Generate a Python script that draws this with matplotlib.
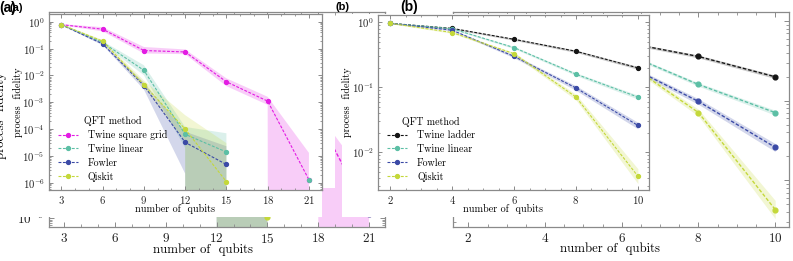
import numpy as np
import matplotlib
matplotlib.use('Agg')
import matplotlib.pyplot as plt
from matplotlib.patches import Rectangle
from matplotlib.ticker import MultipleLocator, LogLocator, NullFormatter

plt.rcParams['font.family'] = 'serif'
plt.rcParams['font.serif'] = ['cmr10']
plt.rcParams['mathtext.fontset'] = 'cm'
plt.rcParams['axes.formatter.use_mathtext'] = True

# panel (a): process fidelity vs number of qubits
qubits_a = [3, 6, 9, 12, 15, 18, 21]
grid_f = [0.78, 0.53, 0.085, 0.075, 0.0058, 0.0011, 1.3e-6]
grid_lo = [0.74, 0.44, 0.066, 0.062, 0.0040, 0.0008, 0]
grid_hi = [0.82, 0.63, 0.115, 0.093, 0.0078, 0.0016, 1.3e-5]

qubits_a2 = [3, 6, 9, 12, 15]
lin_a = [0.78, 0.17, 0.0155, 6.4e-5, 1.4e-5]
lin_a_lo = [0.74, 0.15, 0.0102, 2.0e-5, 0]
lin_a_hi = [0.82, 0.19, 0.024, 1.2e-4, 7.0e-5]
fow_a = [0.78, 0.15, 0.0042, 3.2e-5, 4.8e-6]
fow_a_lo = [0.74, 0.135, 0.0030, 2.2e-6, 0]
fow_a_hi = [0.82, 0.165, 0.0055, 8.0e-5, 2.3e-5]
qis_a = [0.78, 0.19, 0.0045, 1.0e-4, 1.1e-6]
qis_a_lo = [0.74, 0.17, 0.0036, 3.5e-5, 0]
qis_a_hi = [0.82, 0.21, 0.0065, 3.3e-4, 3.0e-5]

# panel (b)
qubits_b = [2, 4, 6, 8, 10]
lad_b = [0.97, 0.81, 0.55, 0.36, 0.20]
lad_b_lo = [0.955, 0.79, 0.53, 0.345, 0.19]
lad_b_hi = [0.985, 0.83, 0.57, 0.375, 0.21]
lin_b = [0.97, 0.80, 0.41, 0.16, 0.071]
lin_b_lo = [0.955, 0.78, 0.395, 0.152, 0.066]
lin_b_hi = [0.985, 0.82, 0.425, 0.168, 0.076]
fow_b = [0.97, 0.76, 0.30, 0.098, 0.026]
fow_b_lo = [0.955, 0.74, 0.285, 0.090, 0.023]
fow_b_hi = [0.985, 0.78, 0.315, 0.106, 0.029]
qis_b = [0.97, 0.70, 0.33, 0.071, 0.0043]
qis_b_lo = [0.955, 0.68, 0.315, 0.064, 0.0033]
qis_b_hi = [0.985, 0.72, 0.345, 0.078, 0.0056]

C_GRID = '#e31ce3'
C_LIN = '#5cbfa5'
C_FOW = '#3b4aa6'
C_QIS = '#c4d83a'
C_LAD = '#151515'

W, H = 793, 261


def px_rect(x0, y0, x1, y1):
    # figure pixel box (top-left origin) -> figure fraction rect
    return [x0 / W, 1 - y1 / H, (x1 - x0) / W, (y1 - y0) / H]


def series(ax, x, y, lo, hi, color, label, s):
    ax.fill_between(x, lo, hi, color=color, alpha=0.22, lw=0)
    ax.plot(x, y, ls='--', dashes=(2.6, 1.4), color=color, lw=0.8 * s,
            marker='o', ms=2.8 * s, label=label)


def style(ax, s):
    for sp in ax.spines.values():
        sp.set_color('#8a8a8a')
        sp.set_linewidth(0.9)
    ax.tick_params(which='both', direction='in', top=True, right=True,
                   color='#8a8a8a', labelcolor='#222222', labelsize=7.7 * s, pad=3 * s)
    ax.tick_params(which='major', length=3.2 * s, width=0.7)
    ax.tick_params(which='minor', length=1.6 * s, width=0.6)
    ax.yaxis.set_major_locator(LogLocator(base=10, numticks=20))
    ax.yaxis.set_minor_locator(LogLocator(base=10, subs=np.arange(2, 10), numticks=20))
    ax.yaxis.set_minor_formatter(NullFormatter())


def add_legend(ax, s):
    ax.legend(title='QFT method', loc='lower left', bbox_to_anchor=(0.0, -0.005),
              frameon=False, fontsize=7.2 * s, title_fontsize=7.2 * s,
              handlelength=2.0, labelspacing=0.42, handletextpad=1.0)


def panel_a(ax, s, legend):
    series(ax, qubits_a, grid_f, grid_lo, grid_hi, C_GRID, 'Twine square grid', s)
    series(ax, qubits_a2, lin_a, lin_a_lo, lin_a_hi, C_LIN, 'Twine linear', s)
    series(ax, qubits_a2, fow_a, fow_a_lo, fow_a_hi, C_FOW, 'Fowler', s)
    series(ax, qubits_a2, qis_a, qis_a_lo, qis_a_hi, C_QIS, 'Qiskit', s)
    ax.plot(qubits_a[-1], grid_f[-1], 'o', color=C_LIN, ms=2.8 * s)
    ax.set_yscale('log')
    ax.set_xlim(2.1, 21.95)
    ax.set_ylim(10 ** -6.27, 10 ** 0.29)
    style(ax, s)
    ax.xaxis.set_major_locator(MultipleLocator(3))
    ax.xaxis.set_minor_locator(MultipleLocator(1))
    if legend:
        add_legend(ax, s)


def panel_b(ax, s, legend):
    series(ax, qubits_b, lad_b, lad_b_lo, lad_b_hi, C_LAD, 'Twine ladder', s)
    series(ax, qubits_b, lin_b, lin_b_lo, lin_b_hi, C_LIN, 'Twine linear', s)
    series(ax, qubits_b, fow_b, fow_b_lo, fow_b_hi, C_FOW, 'Fowler', s)
    series(ax, qubits_b, qis_b, qis_b_lo, qis_b_hi, C_QIS, 'Qiskit', s)
    ax.set_yscale('log')
    ax.set_xlim(1.6, 10.36)
    ax.set_ylim(10 ** -2.58, 10 ** 0.115)
    style(ax, s)
    ax.xaxis.set_major_locator(MultipleLocator(2))
    ax.xaxis.set_minor_locator(MultipleLocator(0.5))
    if legend:
        add_legend(ax, s)


fig = plt.figure(figsize=(W / 100, H / 100), dpi=100)

# big copy of the figure underneath
big = 1.23
axA = fig.add_axes(px_rect(49, 12, 385, 227), zorder=0)
axB = fig.add_axes(px_rect(453, 12, 789, 226.5), zorder=0)
panel_a(axA, big, False)
panel_b(axB, big, False)
for ax, xl in ((axA, 0.458), (axB, 0.467)):
    ax.set_xlabel('number of  qubits', fontsize=9.2)
    ax.xaxis.set_label_coords(xl, -0.075)
axA.set_ylabel('process  fidelity', fontsize=9.2)
axA.yaxis.set_label_coords(-0.125, 0.52)
axB.set_ylabel('process  fidelity', fontsize=9.2)

# white backing of the small copy
for box in ((14, 14, 335, 188), (14, 188, 322, 217), (342, 14, 650, 217)):
    r = px_rect(*box)
    fig.add_artist(Rectangle((r[0], r[1]), r[2], r[3], transform=fig.transFigure,
                             facecolor='white', edgecolor='none', zorder=1))

# small copy on top
axa = fig.add_axes(px_rect(49, 14, 322, 190), zorder=2)
axb = fig.add_axes(px_rect(378, 15, 649, 190), zorder=2)
panel_a(axa, 1.0, True)
panel_b(axb, 1.0, True)
for ax in (axa, axb):
    ax.set_xlabel('number of  qubits', fontsize=7.3)
    ax.xaxis.set_label_coords(0.462, -0.078)
    ax.set_ylabel('process  fidelity', fontsize=7.3)
    ax.yaxis.set_label_coords(-0.095, 0.5)

fig.text(-1 / W, 1 - 1 / H, '(a)', fontsize=10, fontweight='bold',
         family='Liberation Sans', ha='left', va='top', zorder=0.5)
fig.text(400 / W, 1, '(b)', fontsize=10, fontweight='bold',
         family='Liberation Sans', ha='left', va='top', zorder=0.5)
fig.text(10 / W, 1 - 3 / H, '(a)', fontsize=8, fontweight='bold',
         family='Liberation Sans', ha='left', va='top', zorder=3)
fig.text(335 / W, 1 - 2 / H, '(b)', fontsize=8, fontweight='bold',
         family='Liberation Sans', ha='left', va='top', zorder=3)

fig.savefig('out.png', dpi=100, facecolor='white')
